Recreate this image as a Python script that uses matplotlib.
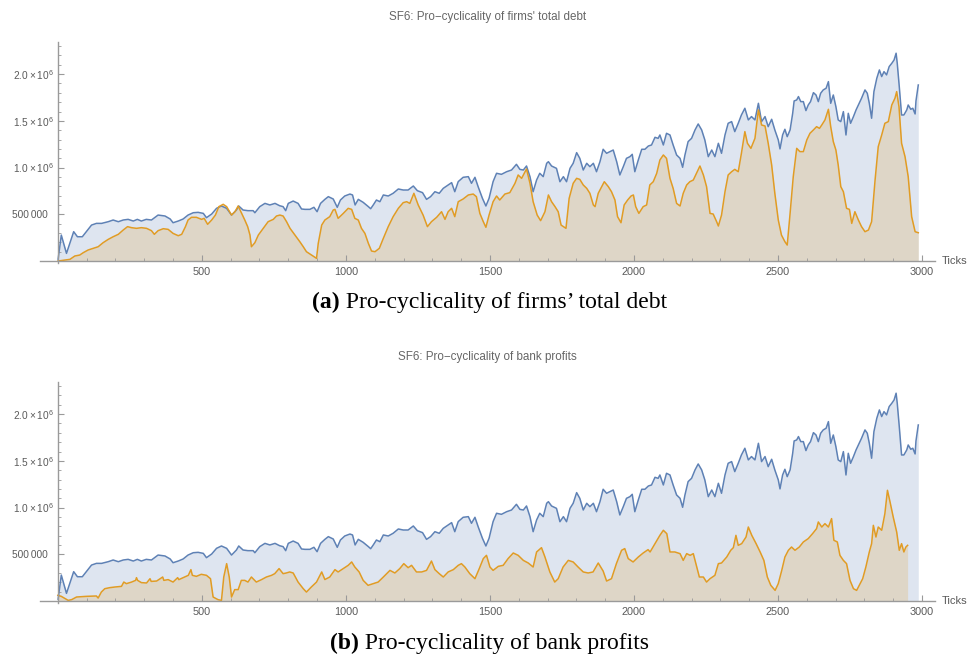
import matplotlib
matplotlib.use("Agg")
import matplotlib.pyplot as plt
import matplotlib.transforms as mtransforms
from matplotlib.ticker import FixedLocator, FixedFormatter, MultipleLocator

plt.rcParams['font.family'] = ['Liberation Sans', 'DejaVu Sans']
plt.rcParams['mathtext.fontset'] = 'custom'
plt.rcParams['mathtext.rm'] = 'Liberation Sans'

# output (blue), same in both panels -- values in thousands
output_ticks = [1, 12, 30, 55, 68, 85, 117, 134, 152, 175, 192, 210, 227, 244, 262, 276, 290, 307, 325,
                348, 372, 390, 400, 418, 435, 452, 470, 487, 505, 516, 534, 551, 568, 586, 603, 620, 628,
                643, 660, 678, 684, 701, 719, 736, 754, 770, 782, 791, 800, 817, 834, 846, 858, 875, 889,
                900, 912, 927, 939, 956, 970, 981, 996, 1014, 1023, 1032, 1043, 1060, 1078, 1086, 1095,
                1106, 1118, 1130, 1147, 1164, 1182, 1199, 1216, 1234, 1248, 1266, 1280, 1294, 1309, 1324,
                1338, 1355, 1367, 1378, 1390, 1407, 1425, 1436, 1448, 1459, 1474, 1486, 1497, 1511, 1523,
                1540, 1558, 1575, 1592, 1604, 1616, 1627, 1639, 1650, 1662, 1673, 1685, 1697, 1703, 1714,
                1731, 1743, 1755, 1766, 1778, 1789, 1801, 1812, 1824, 1836, 1847, 1859, 1870, 1882, 1893,
                1905, 1917, 1928, 1940, 1951, 1963, 1974, 1986, 1994, 2003, 2015, 2027, 2038, 2050, 2061,
                2073, 2084, 2090, 2102, 2113, 2125, 2136, 2148, 2160, 2169, 2177, 2188, 2200, 2212, 2223,
                2235, 2246, 2258, 2270, 2281, 2293, 2304, 2316, 2327, 2339, 2350, 2362, 2373, 2385, 2397,
                2408, 2420, 2432, 2443, 2455, 2466, 2478, 2489, 2501, 2507, 2516, 2524, 2532, 2542, 2551,
                2556, 2565, 2571, 2579, 2588, 2597, 2605, 2613, 2623, 2632, 2640, 2648, 2657, 2667, 2675,
                2683, 2692, 2701, 2709, 2718, 2727, 2736, 2744, 2752, 2762, 2771, 2779, 2790, 2802, 2810,
                2817, 2825, 2833, 2843, 2852, 2860, 2868, 2877, 2886, 2895, 2903, 2910, 2914, 2921, 2929,
                2937, 2947, 2952, 2961, 2968, 2976, 2979, 2987]
output_k = [20, 278, 82, 314, 260, 260, 385, 403, 403, 421, 439, 421, 439, 446, 428, 446, 428, 446, 439,
            492, 482, 450, 410, 428, 450, 492, 517, 521, 510, 464, 503, 564, 589, 564, 492, 546, 589,
            546, 539, 539, 517, 582, 617, 600, 617, 592, 582, 539, 617, 642, 617, 557, 553, 553, 575,
            528, 617, 660, 689, 664, 575, 653, 696, 717, 707, 600, 660, 628, 582, 560, 600,
            653, 635, 707, 696, 725, 771, 760, 760, 803, 753, 732, 660, 689, 742, 725,
            778, 814, 839, 742, 850, 896, 903, 832, 896, 796, 671, 589, 671, 850, 939,
            928, 956, 974, 1035, 981, 974, 1017, 903, 742, 867, 939, 903, 1046, 1063, 1017,
            992, 849, 903, 849, 992, 1046, 1160, 1099, 974, 1046, 1010, 1046, 956, 1063, 1196,
            1153, 1171, 1188, 1063, 921, 1010, 1099, 1117, 1142, 956, 1081, 1196, 1196, 1231, 1242,
            1324, 1313, 1349, 1242, 1367, 1349, 1242, 1135, 1099, 1003, 1135, 1278, 1313, 1403, 1467,
            1403, 1296, 1117, 1188, 1117, 1260, 1153, 1349, 1474, 1492, 1385, 1474, 1563, 1635, 1510,
            1546, 1510, 1688, 1492, 1546, 1438, 1517, 1403, 1296, 1200, 1349, 1410, 1331, 1403, 1581,
            1713, 1724, 1760, 1706, 1706, 1610, 1670, 1706, 1802, 1777, 1706, 1795, 1831, 1849, 1920,
            1688, 1777, 1652, 1510, 1492, 1599, 1349, 1581, 1474, 1546, 1617, 1670, 1742, 1831, 1795,
            1688, 1528, 1813, 1956, 2045, 1974, 2027, 1992, 2081, 2116, 2152, 2224, 2116, 1867, 1563,
            1563, 1617, 1670, 1624, 1635, 1574, 1713, 1884]

# firms' total debt (orange, top panel)
debt_ticks = [0, 42, 59, 76, 88, 105, 123, 140, 157, 175, 192, 210, 227, 242, 256, 273, 290, 308, 325,
              335, 348, 366, 383, 400, 418, 430, 443, 452, 464, 481, 499, 508, 520, 534, 547, 559, 574,
              586, 603, 615, 626, 638, 649, 659, 667, 672, 684, 696, 713, 730, 748, 759, 771, 782, 794,
              806, 823, 840, 852, 863, 881, 898, 904, 916, 927, 944, 956, 962, 973, 991, 1008, 1020,
              1031, 1043, 1054, 1066, 1078, 1089, 1101, 1116, 1130, 1147, 1164, 1182, 1199, 1211, 1222,
              1236, 1251, 1268, 1283, 1297, 1315, 1332, 1344, 1355, 1367, 1378, 1390, 1407, 1425, 1442,
              1453, 1465, 1477, 1486, 1497, 1511, 1523, 1534, 1552, 1569, 1587, 1598, 1610, 1627, 1639,
              1650, 1664, 1676, 1691, 1703, 1714, 1726, 1737, 1747, 1755, 1764, 1775, 1789, 1801, 1812,
              1824, 1836, 1847, 1859, 1865, 1876, 1888, 1897, 1911, 1922, 1934, 1943, 1955, 1966, 1978,
              1990, 1998, 2006, 2017, 2032, 2044, 2055, 2067, 2079, 2090, 2102, 2113, 2125, 2136, 2148,
              2160, 2171, 2183, 2194, 2206, 2217, 2229, 2241, 2252, 2264, 2275, 2287, 2293, 2304, 2316,
              2327, 2339, 2350, 2362, 2373, 2385, 2394, 2406, 2420, 2432, 2443, 2455, 2466, 2478, 2489,
              2501, 2512, 2524, 2532, 2541, 2553, 2565, 2576, 2588, 2600, 2611, 2623, 2634, 2644, 2652,
              2663, 2675, 2683, 2692, 2701, 2709, 2718, 2727, 2738, 2748, 2756, 2767, 2779, 2790, 2802,
              2814, 2825, 2837, 2848, 2860, 2871, 2883, 2895, 2906, 2912, 2920, 2929, 2941, 2952, 2964,
              2976, 2987]
debt_k = [0, 18, 54, 64, 89, 118, 136, 153, 196, 232, 260, 286, 332, 368, 357, 350, 357, 350, 325,
          286, 325, 346, 339, 296, 271, 286, 368, 439, 468, 468, 446, 457, 393, 439, 492, 582, 607,
          582, 492, 528, 589, 510, 439, 368, 278, 153, 196, 278, 350, 421, 446, 482, 492, 482, 421,
          350, 278, 207, 153, 100, 64, 29, 189, 385, 439, 475, 546, 553, 457, 510, 564, 553,
          457, 439, 350, 296, 189, 107, 100, 136, 243, 368, 475, 564, 625, 635, 617,
          725, 600, 492, 368, 421, 468, 528, 446, 528, 564, 475, 635, 664, 707, 717,
          689, 510, 421, 361, 492, 635, 696, 653, 717, 732, 832, 921, 885, 985, 832,
          635, 492, 432, 528, 707, 635, 582, 528, 385, 368, 350, 671, 832, 885, 874,
          814, 778, 725, 600, 582, 725, 796, 849, 796, 742, 653, 475, 410, 600, 653,
          696, 707, 582, 510, 582, 600, 814, 849, 939, 1081, 1135, 1099, 885, 778, 617,
          589, 725, 814, 849, 867, 939, 1017, 921, 796, 510, 503, 421, 375, 492, 742,
          921, 956, 981, 956, 1153, 1385, 1260, 1206, 1313, 1617, 1456, 1445, 1260, 1028, 725,
          439, 278, 207, 171, 475, 903, 1206, 1171, 1171, 1296, 1367, 1403, 1438, 1420, 1456,
          1510, 1624, 1438, 1278, 1188, 1028, 796, 742, 564, 553, 403, 528, 439, 368, 314,
          332, 421, 867, 1224, 1349, 1474, 1492, 1670, 1742, 1813, 1652, 1260, 1117, 903, 475,
          314, 303]

# bank profits (orange, bottom panel)
profit_ticks = [0, 12, 36, 48, 65, 99, 134, 140, 151, 163, 180, 198, 221, 229, 238, 256, 270, 273, 277,
                290, 308, 320, 324, 343, 364, 368, 383, 400, 416, 420, 435, 453, 462, 467, 481, 498, 516,
                530, 539, 556, 568, 576, 586, 595, 603, 614, 626, 637, 649, 660, 672, 689, 707, 724, 742,
                753, 768, 782, 793, 805, 817, 834, 852, 863, 880, 898, 916, 927, 944, 962, 973, 991, 1008,
                1020, 1031, 1046, 1060, 1077, 1095, 1112, 1130, 1153, 1170, 1187, 1201, 1216, 1228, 1245,
                1263, 1280, 1297, 1309, 1324, 1338, 1355, 1373, 1390, 1401, 1413, 1430, 1448, 1463, 1477,
                1488, 1500, 1511, 1529, 1546, 1563, 1581, 1598, 1616, 1633, 1650, 1662, 1679, 1691, 1708,
                1725, 1737, 1754, 1772, 1789, 1806, 1824, 1841, 1858, 1876, 1893, 1905, 1922, 1939, 1957,
                1968, 1980, 1997, 2015, 2032, 2049, 2056, 2073, 2090, 2102, 2114, 2125, 2142, 2160, 2171,
                2183, 2195, 2206, 2215, 2227, 2241, 2252, 2264, 2281, 2293, 2304, 2322, 2336, 2345, 2354,
                2362, 2374, 2389, 2397, 2409, 2424, 2438, 2451, 2463, 2475, 2490, 2501, 2513, 2524, 2536,
                2547, 2559, 2574, 2588, 2605, 2620, 2634, 2640, 2652, 2663, 2675, 2686, 2694, 2706, 2715,
                2727, 2738, 2750, 2762, 2773, 2785, 2794, 2805, 2817, 2825, 2831, 2840, 2848, 2860, 2871,
                2880, 2889, 2900, 2912, 2921, 2929, 2937, 2944, 2950]
profit_k = [61, 50, 7, 15, 43, 50, 54, 32, 96, 132, 143, 150, 157, 203, 186, 203, 221, 250, 221,
            197, 193, 239, 210, 214, 257, 221, 229, 203, 250, 229, 250, 275, 336, 275, 264, 286, 275,
            239, 43, 15, 7, 257, 400, 257, 43, 122, 122, 221, 221, 203, 257, 203, 229, 257, 275,
            293, 347, 293, 300, 311, 300, 203, 132, 96, 150, 203, 311, 230, 257, 336, 311, 347, 382,
            418, 364, 311, 221, 168, 186, 203, 257, 328, 300, 347, 400, 357, 382, 311,
            311, 328, 428, 336, 293, 257, 311, 336, 382, 400, 364, 293, 239, 347, 454,
            489, 364, 328, 371, 382, 454, 514, 489, 435, 407, 364, 525, 571, 471, 311,
            203, 239, 364, 435, 418, 364, 311, 300, 311, 407, 321, 214, 239, 400, 543,
            561, 454, 418, 471, 514, 550, 525, 614, 703, 757, 721, 525, 525, 507, 435,
            507, 489, 507, 400, 257, 257, 203, 239, 275, 400, 407, 471, 543, 571, 703,
            596, 614, 685, 792, 703, 614, 525, 435, 257, 168, 114, 186, 328, 471, 543,
            578, 543, 578, 632, 668, 721, 775, 846, 792, 828, 792, 882, 650, 632, 489,
            435, 400, 221, 132, 114, 186, 239, 364, 525, 614, 810, 685, 792, 757, 935,
            1185, 1060, 899, 739, 543, 614, 525, 578, 596]

y_labels = ['500\u2009000', r'$\mathregular{1.0\times10^{6}}$',
            r'$\mathregular{1.5\times10^{6}}$', r'$\mathregular{2.0\times10^{6}}$']
x_labels = ['500', '1000', '1500', '2000', '2500', '3000']

blue = '#5e81b5'
orange = '#e19c24'
grey = '#9a9a9a'
label_col = '#5a5a5a'

fig = plt.figure(figsize=(9.68, 6.58), dpi=100)


def panel(rect, title, red_t, red_k):
    ax = fig.add_axes(rect)
    out = [v * 1000 for v in output_k]
    red = [v * 1000 for v in red_k]
    ax.fill_between(output_ticks, 0, out, color=blue, alpha=0.2, lw=0)
    ax.fill_between(red_t, 0, red, color=orange, alpha=0.2, lw=0)
    ax.plot(output_ticks, out, color=blue, lw=1.1)
    ax.plot(red_t, red, color=orange, lw=1.1)

    ax.set_xlim(-62, 3045)
    ax.set_ylim(-21000, 2345000)
    for s in ['top', 'right']:
        ax.spines[s].set_visible(False)
    ax.spines['left'].set_position(('data', 0))
    ax.spines['bottom'].set_position(('data', 0))
    for s in ['left', 'bottom']:
        ax.spines[s].set_color(grey)
        ax.spines[s].set_linewidth(1.0)

    ax.xaxis.set_major_locator(FixedLocator([500, 1000, 1500, 2000, 2500, 3000]))
    ax.xaxis.set_major_formatter(FixedFormatter(x_labels))
    ax.xaxis.set_minor_locator(MultipleLocator(100))
    ax.yaxis.set_major_locator(FixedLocator([500000, 1000000, 1500000, 2000000]))
    ax.yaxis.set_major_formatter(FixedFormatter(y_labels))
    ax.yaxis.set_minor_locator(MultipleLocator(100000))
    ax.tick_params(which='both', direction='in', color=grey, labelcolor=label_col)
    ax.tick_params(axis='x', labelsize=7.8, pad=4)
    ax.tick_params(axis='y', labelsize=7.3, pad=7)
    ax.tick_params(which='major', length=4, width=0.8)
    ax.tick_params(which='minor', length=2.2, width=0.6)
    ax.patch.set_visible(False)

    # Mathematica lines up the mantissa, the exponent sticks out a little
    shift = mtransforms.ScaledTranslation(4 / 72, 0, fig.dpi_scale_trans)
    for lab in ax.get_yticklabels()[1:]:
        lab.set_transform(lab.get_transform() + shift)

    ax.set_title(title, fontsize=8.4, color='#666666', pad=16)
    ax.text(3070, 0, 'Ticks', fontsize=8, color=label_col, va='center', ha='left', clip_on=False)
    return ax


panel([0.0413, 0.6003, 0.9246, 0.336], 'SF6: Pro\u2212cyclicality of firms\' total debt',
      debt_ticks, debt_k)
panel([0.0413, 0.0836, 0.9246, 0.336], 'SF6: Pro\u2212cyclicality of bank profits',
      profit_ticks, profit_k)

# sub-figure captions: bold tag followed by plain text
cap_size = 17
t_a = fig.text(312 / 968, 1 - 308 / 658, '(a)', fontsize=cap_size, fontweight='bold',
               family='Liberation Serif', va='baseline', ha='left')
plt.annotate(' Pro-cyclicality of firms\u2019 total debt', xy=(1, 0), xycoords=t_a,
             fontsize=cap_size, family='Liberation Serif', va='bottom', ha='left')

t_b = fig.text(330 / 968, 1 - 649 / 658, '(b)', fontsize=cap_size, fontweight='bold',
               family='Liberation Serif', va='baseline', ha='left')
plt.annotate(' Pro-cyclicality of bank profits', xy=(1, 0), xycoords=t_b,
             fontsize=cap_size, family='Liberation Serif', va='bottom', ha='left')

fig.savefig('out.png', dpi=100)
